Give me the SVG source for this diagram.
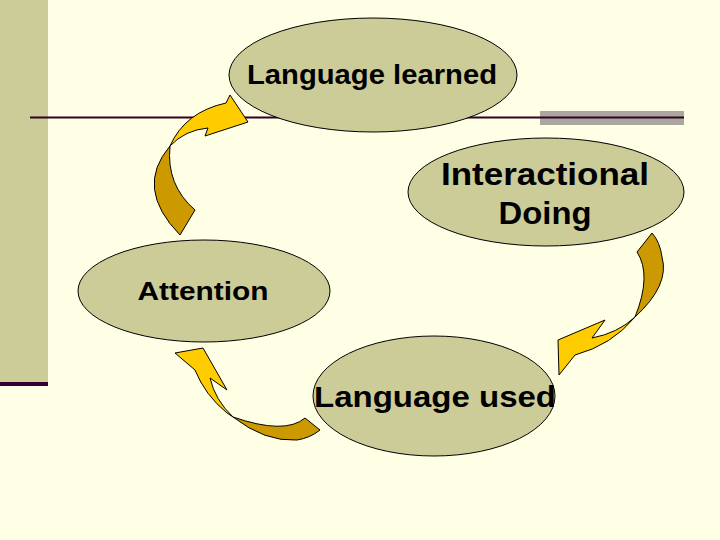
<svg xmlns="http://www.w3.org/2000/svg" width="720" height="540" viewBox="0 0 720 540">
<style>
.node ellipse{fill:#CCCC99;stroke:#000;stroke-width:1}
.node text{font-family:"Liberation Sans",Arial,sans-serif;font-weight:bold;fill:#000;text-anchor:middle}
.dark{fill:#CC9900;stroke:#000;stroke-width:1;stroke-linejoin:round}
.light{fill:#FFCC00;stroke:#000;stroke-width:1;stroke-linejoin:round}
</style>
<rect x="0" y="0" width="720" height="540" fill="#FFFFE5"/>
<rect x="0" y="0" width="48" height="383" fill="#CCCC99"/>
<rect x="0" y="382" width="48" height="4" fill="#330033"/>
<rect x="540" y="111" width="144" height="14" fill="#ABA69E"/>
<line x1="30" y1="117.5" x2="684" y2="117.5" stroke="#330022" stroke-width="2"/>
<g id="connectors">
<g id="arrow-attention-learned">
<path class="dark" d="M170,146 Q134,188 180,235 L195,210 Q166,185 170,146 Z"/>
<path class="light" d="M170,146 Q185,112 226,103 L230,95 L248,122 L205,136 L208,128 Q185,130 170,146 Z"/>
</g>
<g id="arrow-doing-used">
<path class="dark" d="M652,233 L637,252 Q652,275 635,317 Q670,285 662,257 Q660,242 652,233 Z"/>
<path class="light" d="M635,317 Q612,345 575,355 L559,375 L558,340 L605,320 L592,338 Q618,333 635,317 Z"/>
</g>
<g id="arrow-used-attention">
<path class="dark" d="M233,417 Q265,442 297,440 Q310,438 320,430 L305,418 Q285,435 233,417 Z"/>
<path class="light" d="M233,417 L227,413 Q205,395 195,370 L175,353 L203,348 L227,390 L210,378 Q215,400 233,417 Z"/>
</g>
</g>
<g id="node-learned" class="node">
<ellipse cx="373" cy="75" rx="144" ry="57"/>
<text x="372" y="84" font-size="28" textLength="250" lengthAdjust="spacingAndGlyphs">Language learned</text>
</g>
<g id="node-doing" class="node">
<ellipse cx="546" cy="192" rx="138" ry="54"/>
<text x="545" y="185" font-size="31" textLength="208" lengthAdjust="spacingAndGlyphs">Interactional</text>
<text x="545" y="224" font-size="31" textLength="93" lengthAdjust="spacingAndGlyphs">Doing</text>
</g>
<g id="node-attention" class="node">
<ellipse cx="204" cy="291" rx="126" ry="51"/>
<text x="203" y="300" font-size="25" textLength="131" lengthAdjust="spacingAndGlyphs">Attention</text>
</g>
<g id="node-used" class="node">
<ellipse cx="434" cy="396" rx="121" ry="60"/>
<text x="435" y="407" font-size="30" textLength="242" lengthAdjust="spacingAndGlyphs">Language used</text>
</g>
</svg>
